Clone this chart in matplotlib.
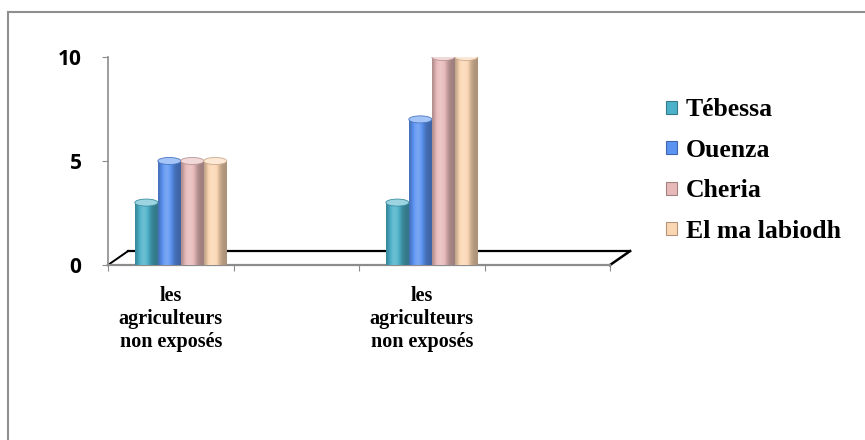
import numpy as np
import matplotlib

matplotlib.use("Agg")
import matplotlib.pyplot as plt
from matplotlib.patches import Ellipse, Rectangle, Polygon
from matplotlib.lines import Line2D
from matplotlib.colors import to_rgb

# data (empty slots carry no bars)
categories = ["les\nagriculteurs\nnon exposés", "", "les\nagriculteurs\nnon exposés", ""]
series = ["Tébessa", "Ouenza", "Cheria", "El ma labiodh"]
tebessa = [3, np.nan, 3, np.nan]
ouenza = [5, np.nan, 7, np.nan]
cheria = [5, np.nan, 10, np.nan]
el_ma_labiodh = [5, np.nan, 10, np.nan]
y_ticks = [0, 5, 10]

values = [tebessa, ouenza, cheria, el_ma_labiodh]
colors = ["#4bb0c8", "#5b93f2", "#e8b9b9", "#fbd6b2"]

W, H = 865, 440
fig = plt.figure(figsize=(W / 100, H / 100), dpi=100)
ax = fig.add_axes([108 / W, 1 - 265 / H, (610 - 108) / W, (265 - 57) / H])

serif = {"family": "Liberation Serif", "weight": "bold"}


def shade(base, n=64):
    base = np.array(to_rgb(base))
    t = np.linspace(0, 1, n)
    f = 0.68 + 0.5 * np.exp(-((t - 0.38) / 0.28) ** 2)
    out = []
    for v in f:
        if v <= 1:
            out.append(base * v)
        else:
            out.append(base + (1 - base) * (v - 1))
    return np.clip(np.array(out), 0, 1)[None, :, :]


bw = 0.183
shift = 0.08  # depth offset of the 3D bars
x = np.arange(len(categories)) + 0.5
for i, (vals, c) in enumerate(zip(values, colors)):
    offs = x + shift + (i - 1.5) * bw
    bars = ax.bar(offs, vals, width=bw, color=c, edgecolor="none", zorder=3)
    grad = shade(c)
    for b, v in zip(bars, vals):
        if np.isnan(v):
            continue
        x0 = b.get_x()
        im = ax.imshow(grad, extent=(x0, x0 + bw, 0, v), aspect="auto",
                       zorder=3.5, interpolation="bicubic")
        im.set_clip_path(b)
        top = np.array(to_rgb(c)) * 0.55 + 0.45
        ax.add_patch(Ellipse((x0 + bw / 2, v), bw, 0.34, facecolor=top,
                             edgecolor=np.array(to_rgb(c)) * 0.8, lw=0.6, zorder=4))
        ax.add_patch(Ellipse((x0 + bw / 2, 0), bw, 0.3, facecolor=grad[0, 20] * 0.9,
                             edgecolor="none", zorder=2.9))

ax.set_xlim(0, 4)
ax.set_ylim(0, 10)

# floor of the 3D plot
dx, dy = 0.16, 0.67
ax.add_patch(Polygon([(0, 0), (4, 0), (4 + dx, dy), (dx, dy)], closed=True,
                     facecolor="white", edgecolor="none", zorder=1, clip_on=False))
ax.plot([dx, 4 + dx], [dy, dy], color="black", lw=1.6, zorder=2, clip_on=False)
ax.plot([0, dx], [0, dy], color="black", lw=1.4, zorder=2, clip_on=False)
ax.plot([4, 4 + dx], [0, dy], color="black", lw=1.8, zorder=2, clip_on=False)

for s in ["top", "right"]:
    ax.spines[s].set_visible(False)
ax.spines["left"].set_color("#8c8c8c")
ax.spines["bottom"].set_color("#8c8c8c")
ax.spines["left"].set_linewidth(1.2)
ax.spines["bottom"].set_linewidth(1.6)

ax.set_yticks(y_ticks)
ax.set_yticklabels([str(t) for t in y_ticks], family="Open Sans", weight="bold", fontsize=15)
ax.tick_params(axis="y", direction="out", length=4, color="#8c8c8c", pad=15)

ax.set_xticks(np.arange(len(categories) + 1))
ax.set_xticklabels([])
ax.set_xticks(x, minor=True)
ax.set_xticklabels(categories, minor=True, fontdict=serif, fontsize=14.5, linespacing=1.2)
ax.tick_params(axis="x", which="major", direction="out", length=4, color="#8c8c8c")
ax.tick_params(axis="x", which="minor", length=0, pad=15)

handles = [Rectangle((0, 0), 1, 1, facecolor=c, edgecolor=np.array(to_rgb(c)) * 0.7, lw=0.8)
           for c in colors]
fig.legend(handles, series, loc="upper left", bbox_to_anchor=(656 / W, 1 - 88 / H),
           frameon=False, prop={"family": "Liberation Serif", "weight": "bold", "size": 18.5},
           handlelength=0.4, handleheight=0.4, handletextpad=0.35, labelspacing=0.68,
           borderaxespad=0)

# outer chart border
fig.add_artist(Line2D([8 / W, 8 / W], [0, 1 - 12 / H], color="#8f8f8f", lw=1.5))
fig.add_artist(Line2D([8 / W, 1], [1 - 12 / H, 1 - 12 / H], color="#8f8f8f", lw=1.5))

fig.savefig("out.png", dpi=100)
